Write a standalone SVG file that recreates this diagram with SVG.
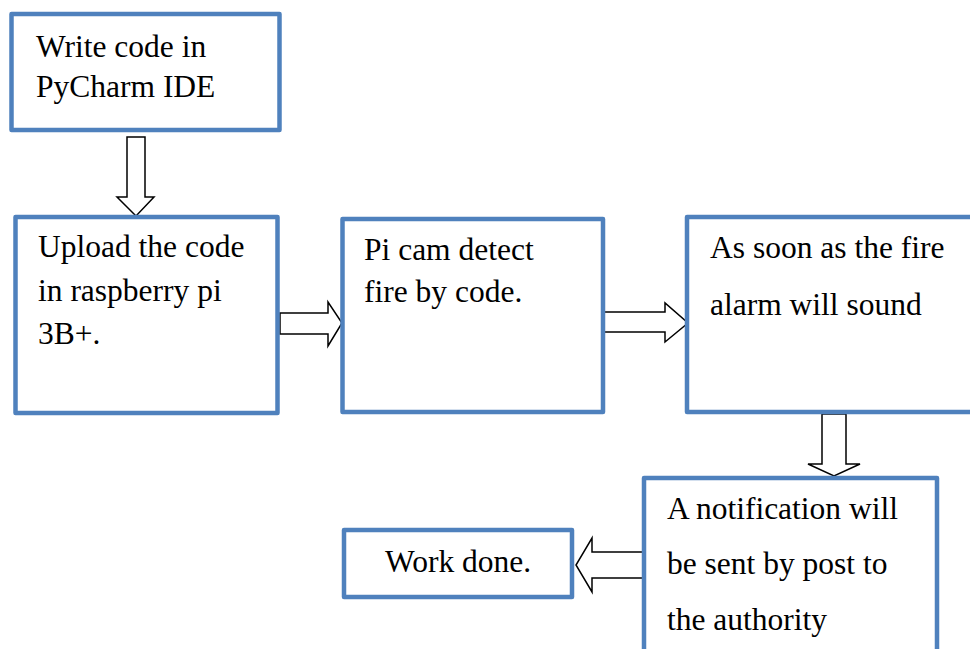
<svg xmlns="http://www.w3.org/2000/svg" width="970" height="649" viewBox="0 0 970 649">
<style>
.box{fill:#fff;stroke:#4F81BD;stroke-width:4.5;stroke-linejoin:round}
.arr{fill:#fff;stroke:#000;stroke-width:1.5;stroke-linejoin:miter}
text{font-family:"Liberation Serif","Times New Roman",serif;font-size:31.5px;fill:#000}
</style>
<rect width="970" height="649" fill="#fff"/>
<g id="connectors">
<polygon class="arr" points="127,137 145,137 145,197 154,197 136,216 117,197 127,197"/>
<polygon class="arr" points="280,313 328,313 328,302 342,323 328,346 328,334 280,334"/>
<polygon class="arr" points="604,312 665,312 665,303 688,323 665,342 665,332 604,332"/>
<polygon class="arr" points="822,414 846,414 846,464 860,464 834,476 808,464 822,464"/>
<polygon class="arr" points="644,552 592,552 592,538 576,565 592,592 592,578 644,578"/>
</g>
<g id="n1"><rect class="box" x="11.5" y="14" width="268" height="116"/>
<text x="36" y="57">Write code in</text><text x="36" y="97">PyCharm IDE</text></g>
<g id="n2"><rect class="box" x="15.5" y="217" width="262" height="196"/>
<text x="38" y="257">Upload the code</text><text x="38" y="301">in raspberry pi</text><text x="38" y="344">3B+.</text></g>
<g id="n3"><rect class="box" x="342.5" y="219" width="260.5" height="193"/>
<text x="364" y="260">Pi cam detect</text><text x="364" y="302">fire by code.</text></g>
<g id="n4"><rect class="box" x="687" y="217" width="300" height="195"/>
<text x="710" y="258">As soon as the fire</text><text x="710" y="315">alarm will sound</text></g>
<g id="n5"><rect class="box" x="644" y="478" width="293" height="200"/>
<text x="667" y="519">A notification will</text><text x="667" y="574">be sent by post to</text><text x="667" y="630">the authority</text></g>
<g id="n6"><rect class="box" x="344" y="530" width="228" height="67"/>
<text x="385" y="572">Work done.</text></g>
</svg>
